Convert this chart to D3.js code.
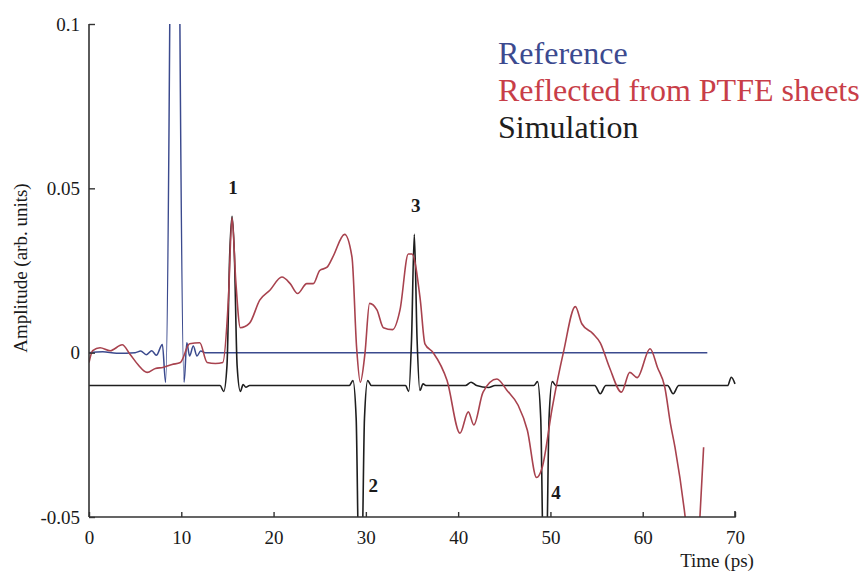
<!DOCTYPE html>
<html>
<head>
<meta charset="utf-8">
<script src="https://cdn.jsdelivr.net/npm/d3@7"></script>
<style>
  body { margin: 0; background: #fff; }
  text { font-family: "Liberation Serif", "Times New Roman", serif; }
</style>
</head>
<body>
<svg width="860" height="577"></svg>
<script>
// time (ps), amplitude (arb. units)
const referenceData = [
  [0, 0], [1.5, 0.0003], [3, -0.0002], [5.0, 0], [5.6, 0.0005], [6.2, -0.0006],
  [6.8, 0.0006], [7.3, -0.0008], [7.95, 0.0025],
  [8.3, -0.009], [8.75, 0.1], [8.95, 0.2], [9.65, 0.2], [9.85, 0.1], [10.3, -0.009],
  [10.6, 0.003], [10.9, -0.001], [11.3, 0.002], [11.7, -0.001], [12.1, 0.0005],
  [12.6, 0], [67, 0]
];

const ptfeData = [
  [0, -0.003], [0.4, 0.0006], [1.2, 0.0015], [2.3, 0.0006], [3.6, 0.0024],
  [4.4, -0.0003], [5.3, -0.0036], [6.3, -0.006], [7.2, -0.0048], [8.0, -0.0045],
  [9.0, -0.0036], [9.9, -0.003], [10.9, 0.0027], [12.0, 0.003], [12.8, -0.003],
  [13.7, -0.0033], [14.5, -0.003], [15.1, 0.016], [15.5, 0.041], [15.9, 0.022],
  [16.4, 0.0076], [17.4, 0.009], [18.5, 0.016], [19.6, 0.019], [20.9, 0.023],
  [21.8, 0.021], [22.6, 0.018], [23.6, 0.021], [24.3, 0.021], [25.0, 0.025],
  [25.8, 0.026], [26.4, 0.029], [27.7, 0.036], [28.5, 0.029], [29.0, 0.0015],
  [29.4, -0.009], [29.9, -0.0003], [30.4, 0.015], [31.2, 0.013], [31.9, 0.0076],
  [32.9, 0.007], [33.7, 0.013], [34.6, 0.030], [35.0, 0.030], [35.9, 0.016],
  [36.4, 0.0027], [37.3, 0], [38.8, -0.0085], [40.2, -0.0245], [41.1, -0.018],
  [41.7, -0.022], [42.7, -0.012], [44.2, -0.008], [45.3, -0.0115], [46.5, -0.016],
  [47.5, -0.0236], [48.5, -0.038], [49.1, -0.035], [50.2, -0.0167], [51.4, 0],
  [52.7, 0.014], [53.4, 0.0088], [54.6, 0.0058], [55.4, 0.003], [56.4, -0.0045],
  [57.7, -0.012], [58.6, -0.006], [59.4, -0.0076], [60.8, 0.0012], [61.6, -0.0045],
  [62.4, -0.0106], [63.0, -0.0215], [63.5, -0.0288], [64.6, -0.05], [65.1, -0.063],
  [65.9, -0.063], [66.2, -0.05], [66.6, -0.0288]
];

const simulationData = [
  [0, -0.01], [14.2, -0.01], [14.6, -0.0118], [14.95, -0.004], [15.25, 0.03],
  [15.5, 0.0415], [15.75, 0.03], [16.05, -0.004], [16.4, -0.0118], [16.7, -0.0097],
  [17.0, -0.0105], [17.4, -0.01], [28.2, -0.01], [28.6, -0.0085], [28.95, -0.02],
  [29.25, -0.065], [29.55, -0.065], [29.85, -0.02], [30.2, -0.0085], [30.6, -0.01],
  [34.3, -0.01], [34.65, -0.0118], [34.95, 0.004], [35.25, 0.036], [35.55, 0.004],
  [35.85, -0.0115], [36.2, -0.0095], [36.5, -0.01], [40.8, -0.01], [41.4, -0.009],
  [42.0, -0.01], [43.3, -0.0106], [44.0, -0.01], [48.2, -0.01], [48.6, -0.0088],
  [48.95, -0.02], [49.25, -0.065], [49.55, -0.065], [49.85, -0.02], [50.2, -0.0088],
  [50.6, -0.01], [54.8, -0.01], [55.4, -0.0125], [56.0, -0.01], [62.7, -0.01],
  [63.3, -0.0125], [63.9, -0.01], [69.2, -0.01], [69.6, -0.0075], [70, -0.0095]
];

const xTicks = [0, 10, 20, 30, 40, 50, 60, 70];
const yTicks = [-0.05, 0, 0.05, 0.1];
const yTickLabels = ['-0.05', '0', '0.05', '0.1'];

const seriesNames = ['Reference', 'Reflected from PTFE sheets', 'Simulation'];
const peakLabels = [
  { label: '1', t: 15.6, v: 0.0503 },
  { label: '2', t: 30.8, v: -0.0403 },
  { label: '3', t: 35.4, v: 0.0448 },
  { label: '4', t: 50.6, v: -0.0424 }
];

const svg = d3.select('svg');

const plotLeft = 89, plotRight = 735, plotTop = 24, plotBottom = 517;

const x = d3.scaleLinear().domain([0, 70]).range([plotLeft, plotRight]);
const y = d3.scaleLinear().domain([-0.05, 0.1]).range([plotBottom, plotTop]);

svg.append('clipPath').attr('id', 'plot-clip')
  .append('rect')
    .attr('x', plotLeft).attr('y', plotTop)
    .attr('width', plotRight - plotLeft + 2).attr('height', plotBottom - plotTop);

const line = d3.line()
  .x(d => x(d[0]))
  .y(d => y(d[1]))
  .curve(d3.curveMonotoneX);

const plot = svg.append('g').attr('clip-path', 'url(#plot-clip)');

const series = [
  { data: referenceData, color: '#3b4a8e', width: 1.5 },
  { data: simulationData, color: '#1e1e1e', width: 1.6 },
  { data: ptfeData, color: '#a8424e', width: 1.6 }
];

plot.selectAll('path')
  .data(series)
  .enter().append('path')
    .attr('d', d => line(d.data))
    .attr('fill', 'none')
    .attr('stroke', d => d.color)
    .attr('stroke-width', d => d.width)
    .attr('stroke-linejoin', 'round');

// axes
const xAxis = d3.axisBottom(x)
  .tickValues(xTicks)
  .tickSize(-5)
  .tickPadding(14)
  .tickFormat(d3.format('d'));

const yAxis = d3.axisLeft(y)
  .tickValues(yTicks)
  .tickSize(-6)
  .tickPadding(9)
  .tickFormat((d, i) => yTickLabels[i]);

const styleAxis = g => {
  g.select('.domain').attr('stroke', '#333').attr('stroke-width', 1.6);
  g.selectAll('.tick line').attr('stroke', '#333').attr('stroke-width', 1.4);
  g.selectAll('.tick text')
    .attr('fill', '#1a1a1a')
    .style('font-family', '"Liberation Serif", serif')
    .style('font-size', '19px');
};

svg.append('g')
  .attr('transform', `translate(0,${plotBottom})`)
  .call(xAxis)
  .call(g => g.select('.domain').attr('d', `M${plotLeft},0H${plotRight}V-6`))
  .call(styleAxis);

svg.append('g')
  .attr('transform', `translate(${plotLeft},0)`)
  .call(yAxis)
  .call(g => g.select('.domain').attr('d', `M0,${plotTop}V${plotBottom}`))
  .call(styleAxis);

// axis titles
svg.append('text')
  .attr('x', 717)
  .attr('y', 567)
  .attr('text-anchor', 'middle')
  .attr('fill', '#1a1a1a')
  .style('font-size', '19px')
  .text('Time (ps)');

svg.append('text')
  .attr('transform', `translate(27,268) rotate(-90)`)
  .attr('text-anchor', 'middle')
  .attr('fill', '#1a1a1a')
  .style('font-size', '19px')
  .text('Amplitude (arb. units)');

// peak numbers
svg.selectAll('.peak')
  .data(peakLabels)
  .enter().append('text')
    .attr('class', 'peak')
    .attr('x', d => x(d.t))
    .attr('y', d => y(d.v) + 7)
    .attr('text-anchor', 'middle')
    .attr('fill', '#1a1a1a')
    .style('font-size', '19px')
    .style('font-weight', 'bold')
    .text(d => d.label);

// legend
const legendColors = d3.scaleOrdinal()
  .domain(seriesNames)
  .range(['#3c4a8f', '#c83e48', '#1e1e1e']);

svg.selectAll('.legend')
  .data(seriesNames)
  .enter().append('text')
    .attr('class', 'legend')
    .attr('x', 498)
    .attr('y', (d, i) => 64 + i * 37)
    .attr('fill', d => legendColors(d))
    .style('font-size', '32px')
    .text(d => d);
</script>
</body>
</html>
